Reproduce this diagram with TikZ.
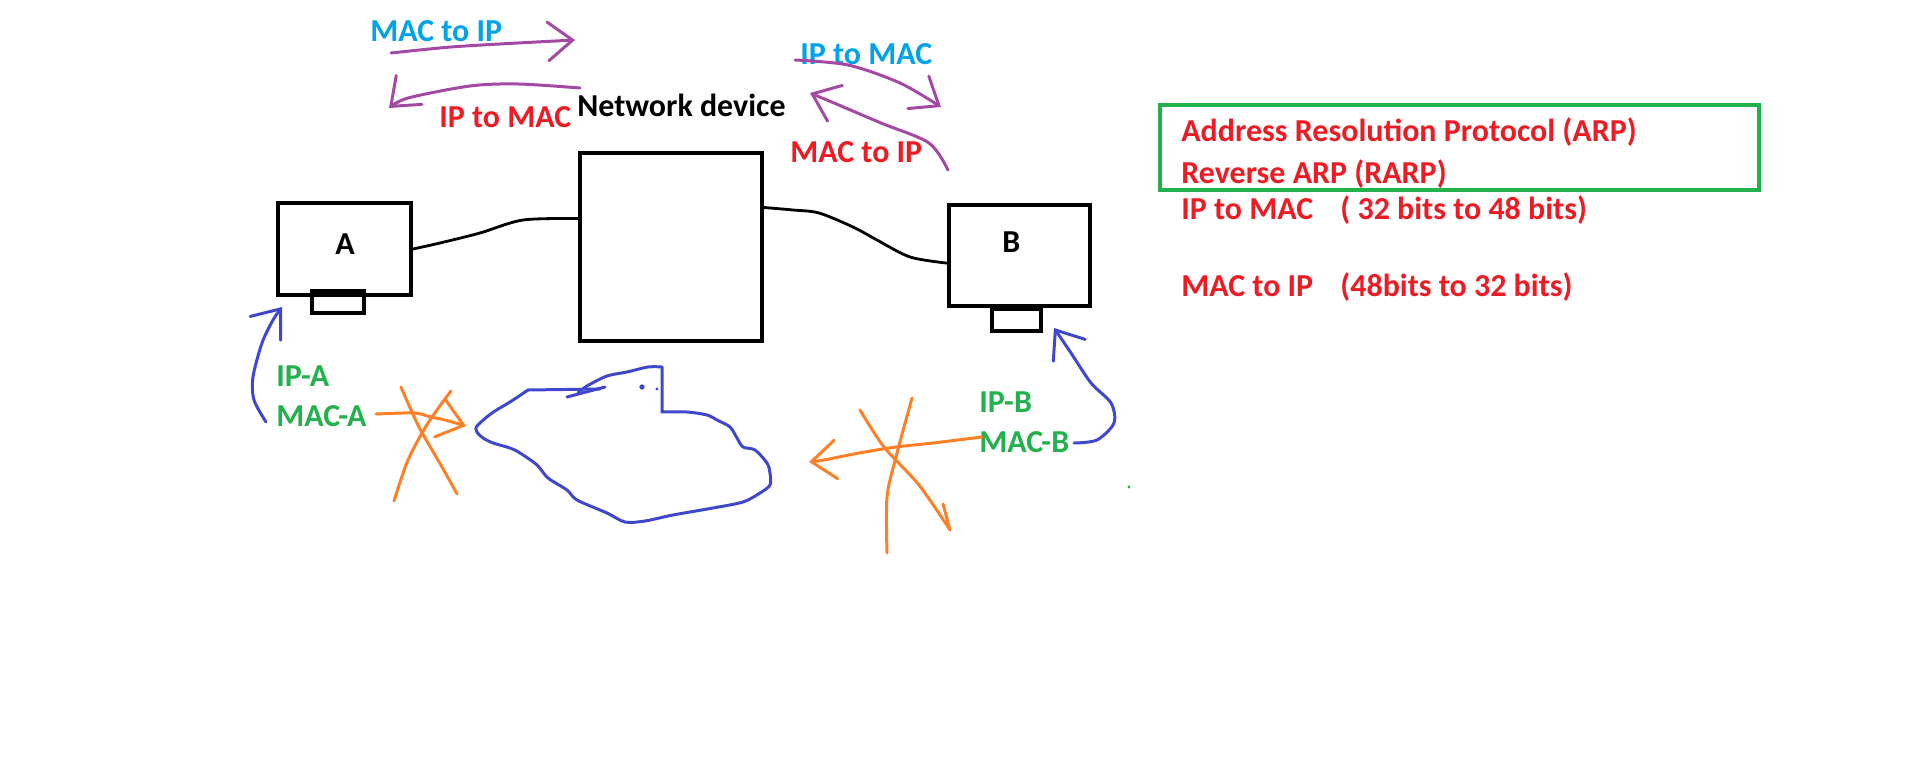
\documentclass[tikz,border=0pt]{standalone}
\usepackage{fontspec}
\setmainfont{Carlito}
\usetikzlibrary{arrows.meta}
\definecolor{lookup}{HTML}{00A2E8}
\definecolor{answer}{HTML}{ED1C24}
\definecolor{address}{HTML}{22B14C}
\definecolor{flow}{HTML}{A349A4}
\definecolor{blocked}{HTML}{FF7F27}
\definecolor{sketch}{HTML}{3F48CC}

\begin{document}
\begin{tikzpicture}[x=0.02cm,y=-0.02cm,
  paint/.style={font=\bfseries\fontsize{18.2}{22}\selectfont,inner sep=0pt,anchor=base west},
  pcbox/.style={draw=black,line width=2.3pt,inner sep=0pt},
  wire/.style={black,line width=1.6pt,line cap=round,line join=round},
  pen/.style={line width=1.7pt,line cap=round,line join=round},
  barb/.style={-{Straight Barb[length=14pt,width=22pt,line cap=round]}}]

  \useasboundingbox (0,0) rectangle (1914,763);

  % Hosts and the network device
  \node[pcbox,minimum width=1.04cm,minimum height=0.44cm] (standA) at (338,302) {};
  \node[pcbox,minimum width=2.66cm,minimum height=1.84cm] (pcA) at (344.5,249) {};
  \node[paint] (labA) at (335,255) {A};
  \node[pcbox,minimum width=3.64cm,minimum height=3.76cm] (netdev) at (671,247) {};
  \node[paint] (devlbl) at (577,117) {Network device};
  \node[pcbox,minimum width=0.98cm,minimum height=0.44cm] (standB) at (1016.5,320) {};
  \node[pcbox,minimum width=2.82cm,minimum height=2.02cm] (pcB) at (1019.5,255.5) {};
  \node[paint] (labB) at (1002,253) {B};

  % Wires
  \draw[wire] plot[smooth] coordinates {(pcA.east) (440,243) (480,233) (523,220) (netdev.163)};
  \draw[wire] plot[smooth] coordinates {(netdev.23) (793,210) (819,213) (853,227) (877,240) (910,257) (pcB.186)};

  % Conversions above the wires
  \node[paint,lookup] (m2iTop) at (370,42) {MAC to IP};
  \node[paint,answer] (i2mTop) at (439,128) {IP to MAC};
  \node[paint,lookup] (i2mRight) at (800,65) {IP to MAC};
  \node[paint,answer] (m2iRight) at (790,163) {MAC to IP};
  \draw[pen,flow,barb] plot[smooth] coordinates {(391,53) (451,47) (518,43) (575,40)};
  \draw[pen,flow,barb] plot[smooth] coordinates {(580,88) (518,84) (470,86) (408,98) (389,108)};
  \draw[pen,flow,barb] plot[smooth] coordinates {(795,60) (848,65) (900,83) (941,107)};
  \draw[pen,flow,barb] plot[smooth] coordinates {(948,170) (929,143) (881,123) (834,103) (810,93)};

  % Addresses of the hosts
  \node[paint,address] (ipA) at (276,387) {IP-A};
  \node[paint,address] (macA) at (276,427) {MAC-A};
  \node[paint,address] (ipB) at (979,413) {IP-B};
  \node[paint,address] (macB) at (979,453) {MAC-B};
  \draw[pen,sketch,barb] plot[smooth] coordinates {(266,422) (254,400) (253,377) (262,343) (273,320) (282,307)};
  \draw[pen,sketch,barb] plot[smooth] coordinates {(1074,443) (1097,440) (1114,423) (1111,403) (1091,383) (1071,353) (1054,328)};

  % Cloud
  \draw[pen,sketch] (528,390) -- (600,389);
  \draw[pen,sketch] plot[smooth] coordinates {(578,393) (587,386) (607,376) (627,372) (648,367) (662,367)}
    -- (662,412)
    -- plot[smooth] coordinates {(662,412) (687,412) (707,415) (717,420) (730,427) (737,438) (743,447)
      (755,450) (767,463) (770,473) (770,485) (760,493) (743,502) (713,508) (673,515) (645,521)
      (625,522) (607,513) (577,500) (567,490) (548,478) (537,465) (520,453) (510,448) (493,443)
      (483,438) (477,432) (477,426) (492,413) (510,402) (528,390)};
  \draw[pen,sketch] (567,397) -- (605,387);
  \fill[sketch] (642,387) circle (1.5pt);
  \fill[sketch] (657,389) circle (0.9pt);

  % Crossed out arrows
  \draw[pen,blocked,barb] plot[smooth] coordinates {(376,414) (414,413) (431,417) (445,420) (466,426)};
  \draw[pen,blocked] plot[smooth] coordinates {(401,387) (419,427) (442,467) (457,494)};
  \draw[pen,blocked] plot[smooth] coordinates {(451,391) (428,423) (408,460) (394,501)};
  \draw[pen,blocked,barb] plot[smooth] coordinates {(982,437) (933,443) (896,447) (859,453) (824,460) (809,462)};
  \draw[pen,blocked] plot[smooth] coordinates {(860,410) (884,447) (919,485) (950,530)};
  \draw[pen,blocked] (943,504) -- (950,530);
  \draw[pen,blocked] plot[smooth] coordinates {(912,398) (896,457) (887,497) (887,553)};
  \fill[address] (1129,487) circle (0.9pt);

  % Protocols
  \node[draw=address,line width=2.3pt,inner sep=0pt,minimum width=11.98cm,minimum height=1.7cm] (arpbox) at (1459.5,147.5) {};
  \node[paint,answer] (arp) at (1181,142) {Address Resolution Protocol (ARP)};
  \node[paint,answer] (rarp) at (1181,184) {Reverse ARP (RARP)};
  \node[paint,answer] (i2mBits) at (1181,220) {\makebox[3.18cm][l]{IP to MAC}( 32 bits to 48 bits)};
  \node[paint,answer] (m2iBits) at (1181,297) {\makebox[3.18cm][l]{MAC to IP}(48bits to 32 bits)};

\end{tikzpicture}
\end{document}
